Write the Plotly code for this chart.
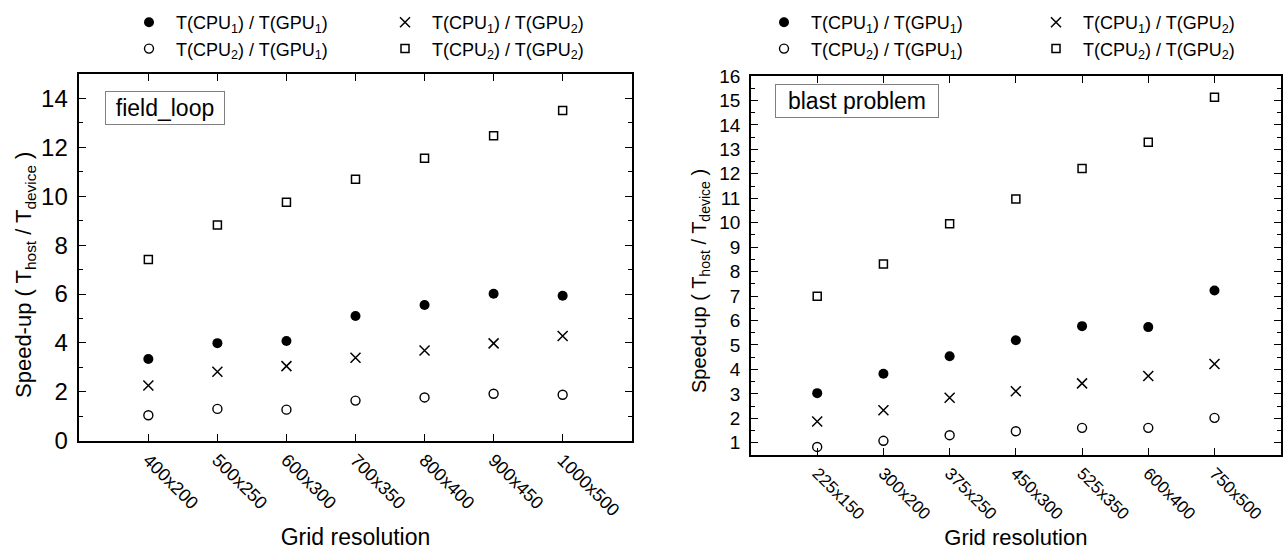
import plotly.graph_objects as go

# ---------------- data ----------------
left_categories = ["400x200", "500x250", "600x300", "700x350", "800x400", "900x450", "1000x500"]
left_cpu1_gpu1 = [3.34, 3.99, 4.08, 5.10, 5.55, 6.01, 5.93]
left_cpu1_gpu2 = [2.26, 2.82, 3.05, 3.39, 3.69, 3.98, 4.28]
left_cpu2_gpu1 = [1.04, 1.30, 1.27, 1.64, 1.77, 1.92, 1.88]
left_cpu2_gpu2 = [7.41, 8.82, 9.75, 10.69, 11.55, 12.47, 13.51]

right_categories = ["225x150", "300x200", "375x250", "450x300", "525x350", "600x400", "750x500"]
right_cpu1_gpu1 = [3.03, 3.82, 4.54, 5.19, 5.77, 5.73, 7.23]
right_cpu1_gpu2 = [1.87, 2.33, 2.84, 3.11, 3.43, 3.73, 4.22]
right_cpu2_gpu1 = [0.83, 1.08, 1.31, 1.47, 1.61, 1.61, 2.02]
right_cpu2_gpu2 = [6.99, 8.31, 9.96, 10.97, 12.22, 13.29, 15.13]

series_names = [
    "T(CPU<sub>1</sub>) / T(GPU<sub>1</sub>)",
    "T(CPU<sub>2</sub>) / T(GPU<sub>1</sub>)",
    "T(CPU<sub>1</sub>) / T(GPU<sub>2</sub>)",
    "T(CPU<sub>2</sub>) / T(GPU<sub>2</sub>)",
]
panel_labels = ["field_loop", "blast problem"]
y_title = "Speed-up ( T<sub>host</sub> / T<sub>device</sub> )"
x_title = "Grid resolution"

# ---------------- styling ----------------
FONT = "Liberation Sans, Arial, sans-serif"
W, H = 1283, 550
BLACK = "#000000"

marker_styles = [
    dict(symbol="circle", size=10, color=BLACK),
    dict(symbol="circle-open", size=9, color=BLACK, line=dict(width=1.4, color=BLACK)),
    dict(symbol="x-thin", size=10, color=BLACK, line=dict(width=1.5, color=BLACK)),
    dict(symbol="square-open", size=8, color=BLACK, line=dict(width=1.5, color=BLACK)),
]

fig = go.Figure()

left_series = [left_cpu1_gpu1, left_cpu2_gpu1, left_cpu1_gpu2, left_cpu2_gpu2]
right_series = [right_cpu1_gpu1, right_cpu2_gpu1, right_cpu1_gpu2, right_cpu2_gpu2]
left_legends = ["legend", "legend", "legend2", "legend2"]
right_legends = ["legend3", "legend3", "legend4", "legend4"]

for vals, name, mk, lg in zip(left_series, series_names, marker_styles, left_legends):
    fig.add_trace(go.Scatter(x=left_categories, y=vals, mode="markers", name=name,
                             marker=mk, xaxis="x", yaxis="y", legend=lg,
                             showlegend=True))
for vals, name, mk, lg in zip(right_series, series_names, marker_styles, right_legends):
    fig.add_trace(go.Scatter(x=right_categories, y=vals, mode="markers", name=name,
                             marker=mk, xaxis="x2", yaxis="y2", legend=lg,
                             showlegend=True))


def px_x(p):
    return p / W


def px_y(p):
    return 1 - p / H


common_x = dict(
    type="category", range=[-1, 7], showline=True, linecolor=BLACK, linewidth=1.5,
    mirror="ticks", ticks="inside", ticklen=7, tickwidth=1, tickcolor=BLACK,
    tickangle=45, showgrid=False, zeroline=False,
)
common_y = dict(
    showline=True, linecolor=BLACK, linewidth=1.5, mirror="ticks", ticks="inside",
    ticklen=7, tickwidth=1, tickcolor=BLACK, showgrid=False, zeroline=False,
)

fig.update_layout(
    width=W, height=H,
    margin=dict(l=0, r=0, t=0, b=0, autoexpand=False),
    paper_bgcolor="white", plot_bgcolor="white",
    font=dict(family=FONT, color=BLACK),
    xaxis=dict(common_x, domain=[px_x(79.3), px_x(631.7)], anchor="y",
               tickfont=dict(size=18, color=BLACK),
               title=dict(text=x_title, font=dict(size=23, color=BLACK), standoff=18)),
    yaxis=dict(common_y, domain=[px_y(440.7), px_y(74)], anchor="x",
               range=[0, 15], tick0=0, dtick=2,
               minor=dict(dtick=1, ticks="inside", ticklen=4, tickcolor=BLACK, tickwidth=1),
               tickfont=dict(size=24, color=BLACK), ticklabelstandoff=5),
    xaxis2=dict(common_x, domain=[px_x(751), px_x(1280.7)], anchor="y2",
                tickfont=dict(size=17, color=BLACK),
                title=dict(text=x_title, font=dict(size=22, color=BLACK), standoff=18)),
    yaxis2=dict(common_y, domain=[px_y(455), px_y(76)], anchor="x2",
                range=[0.5, 16], tick0=0, dtick=1,
                minor=dict(dtick=0.5, ticks="inside", ticklen=4, tickcolor=BLACK, tickwidth=1),
                tickfont=dict(size=19, color=BLACK), ticklabelstandoff=5),
)

legend_common = dict(xanchor="left", yanchor="top", bgcolor="rgba(0,0,0,0)",
                     font=dict(size=18, color=BLACK, family=FONT), tracegroupgap=0,
                     itemwidth=44, itemclick=False, itemdoubleclick=False)
fig.update_layout(
    legend=dict(legend_common, x=px_x(122), y=px_y(4)),
    legend2=dict(legend_common, x=px_x(378), y=px_y(4)),
    legend3=dict(legend_common, x=px_x(757), y=px_y(4)),
    legend4=dict(legend_common, x=px_x(1029), y=px_y(4)),
)

# y-axis titles (rotated annotations, placed like the reference)
fig.add_annotation(text=y_title, xref="paper", yref="paper", x=px_x(25), y=px_y(275),
                   textangle=-90, showarrow=False, xanchor="center", yanchor="middle",
                   font=dict(size=22, color=BLACK))
fig.add_annotation(text=y_title, xref="paper", yref="paper", x=px_x(700), y=px_y(281),
                   textangle=-90, showarrow=False, xanchor="center", yanchor="middle",
                   font=dict(size=20, color=BLACK))

# panel labels in boxes
fig.add_annotation(text=panel_labels[0], xref="paper", yref="paper",
                   x=px_x(105), y=px_y(90.7), xanchor="left", yanchor="top",
                   showarrow=False, font=dict(size=23, color=BLACK),
                   bordercolor="#808080", borderwidth=1, borderpad=3, width=112, height=26)
fig.add_annotation(text=panel_labels[1], xref="paper", yref="paper",
                   x=px_x(775), y=px_y(84.3), xanchor="left", yanchor="top",
                   showarrow=False, font=dict(size=23, color=BLACK),
                   bordercolor="#808080", borderwidth=1, borderpad=3, width=156, height=26)

fig.write_html("out.html", config={"displayModeBar": False},
               post_script="document.body.style.margin='0px';")
